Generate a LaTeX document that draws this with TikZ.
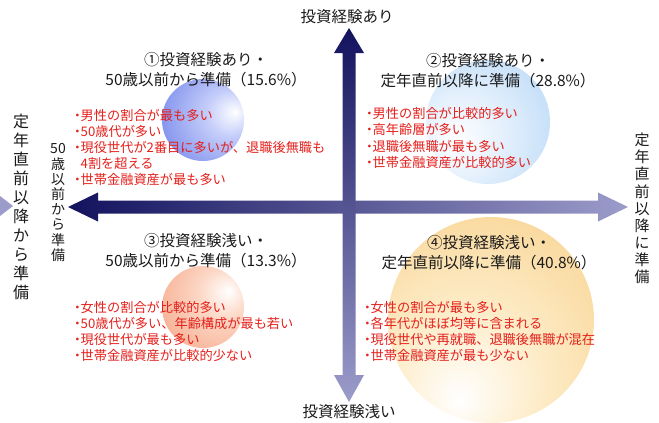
\documentclass[tikz,border=0pt]{standalone}
\usepackage{fontspec}
\setmainfont{Noto Sans CJK JP}
\definecolor{navy}{HTML}{12125E}
\definecolor{lav}{HTML}{9C9CCB}
\definecolor{redtxt}{HTML}{E4201C}
\definecolor{ttl}{HTML}{1A1A1A}
\definecolor{bA}{HTML}{C4CDFA}
\definecolor{bB}{HTML}{7486EA}
\definecolor{bC}{HTML}{4C5EDC}
\definecolor{cA}{HTML}{E2EFFC}
\definecolor{cB}{HTML}{B2D5F6}
\definecolor{cC}{HTML}{98C5F0}
\definecolor{oA}{HTML}{FCD8C6}
\definecolor{oB}{HTML}{F5A586}
\definecolor{oC}{HTML}{EE8A64}
\definecolor{yA}{HTML}{FDECC8}
\definecolor{yB}{HTML}{F8D08A}
\definecolor{yC}{HTML}{F4BC5C}
\newcommand\listdot{\makebox[6.5pt]{・}}
\pgfdeclareradialshading{sphA}{\pgfpoint{20bp}{5bp}}{color(0bp)=(white); color(14bp)=(bA); color(42bp)=(bB); color(72bp)=(bC)}
\pgfdeclareradialshading{sphB}{\pgfpoint{-14bp}{-8bp}}{color(0bp)=(white); color(18bp)=(cA); color(45bp)=(cB); color(72bp)=(cC)}
\pgfdeclareradialshading{sphC}{\pgfpoint{16bp}{10bp}}{color(0bp)=(white); color(15bp)=(oA); color(44bp)=(oB); color(72bp)=(oC)}
\pgfdeclareradialshading{sphD}{\pgfpoint{-8bp}{-20bp}}{color(0bp)=(white); color(18bp)=(yA); color(46bp)=(yB); color(76bp)=(yC)}
\begin{document}
\begin{tikzpicture}[x=1pt,y=-1pt,
  ttlstyle/.style={font=\fontsize{15.5}{20}\selectfont, align=center, inner sep=0pt, text=ttl},
  liststyle/.style={font=\fontsize{13.2}{16.2}\selectfont, align=left, inner sep=0pt, text=redtxt, anchor=west},
  axlabel/.style={font=\fontsize{15.5}{18}\selectfont, inner sep=0pt, text=ttl},
  vlabel/.style={align=center, inner sep=0pt, text=ttl}]
\useasboundingbox (0,0) rectangle (659,423);
% spheres
\shade[shading=sphA] (203,120) circle[radius=41];
\shade[shading=sphB] (488,122) circle[radius=62];
\shade[shading=sphC] (203,307) circle[radius=41];
\shade[shading=sphD] (491,320) circle[radius=103];
% small left tip
\fill[lav] (0,196) -- (13,206) -- (0,216) -- cycle;
% horizontal arrow
\shade[left color=navy, right color=lav]
  (68,207) -- (98,192.5) -- (98,200.5) -- (598,200.5) -- (598,192.5) -- (628,207)
  -- (598,221.5) -- (598,213.5) -- (98,213.5) -- (98,221.5) -- cycle;
% vertical arrow
\shade[top color=navy, bottom color=lav]
  (349,28) -- (364,53) -- (355.5,53) -- (355.5,375) -- (364,375) -- (349,402)
  -- (334,375) -- (342.5,375) -- (342.5,53) -- (334,53) -- cycle;
% axis labels
\node[axlabel] (top) at (347,17) {投資経験あり};
\node[axlabel] (bottom) at (349,411.5) {投資経験浅い};
\node[vlabel, font=\fontsize{16}{19}\selectfont] (left) at (21,207) {定\\年\\直\\前\\以\\降\\か\\ら\\準\\備};
\node[vlabel, font=\fontsize{14}{15.2}\selectfont] (inner) at (58,202.5) {50\\歳\\以\\前\\か\\ら\\準\\備};
\node[vlabel, font=\fontsize{15}{17.1}\selectfont] (right) at (642,208.5) {定\\年\\直\\前\\以\\降\\に\\準\\備};
% titles
\node[ttlstyle] (t1) at (206,70) {①投資経験あり・\\50歳以前から準備（15.6\%）};
\node[ttlstyle] (t2) at (488,70.5) {②投資経験あり・\\定年直前以降に準備（28.8\%）};
\node[ttlstyle] (t3) at (206,251) {③投資経験浅い・\\50歳以前から準備（13.3\%）};
\node[ttlstyle] (t4) at (489,253) {④投資経験浅い・\\定年直前以降に準備（40.8\%）};
% lists
\node[liststyle] (l1) at (74,147.5) {\listdot 男性の割合が最も多い\\\listdot 50歳代が多い\\\listdot 現役世代が2番目に多いが、退職後無職も\\\hspace*{6.5pt}4割を超える\\\listdot 世帯金融資産が最も多い};
\node[liststyle] (l2) at (366,138) {\listdot 男性の割合が比較的多い\\\listdot 高年齢層が多い\\\listdot 退職後無職が最も多い\\\listdot 世帯金融資産が比較的多い};
\node[liststyle] (l3) at (74,331.5) {\listdot 女性の割合が比較的多い\\\listdot 50歳代が多い、年齢構成が最も若い\\\listdot 現役世代が最も多い\\\listdot 世帯金融資産が比較的少ない};
\node[liststyle] (l4) at (364,331.5) {\listdot 女性の割合が最も多い\\\listdot 各年代がほぼ均等に含まれる\\\listdot 現役世代や再就職、退職後無職が混在\\\listdot 世帯金融資産が最も少ない};
\end{tikzpicture}
\end{document}
